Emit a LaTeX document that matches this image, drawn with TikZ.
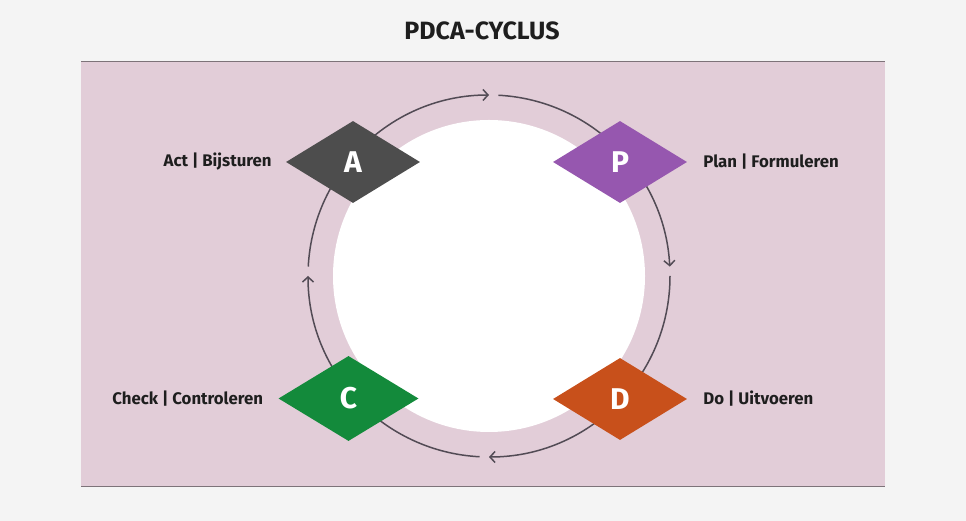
\documentclass[tikz,border=0pt]{standalone}
\usepackage{fontspec}
\setmainfont{Fira Sans}
\usetikzlibrary{arrows.meta, positioning, shapes.geometric}
\definecolor{pdcaBack}{HTML}{F4F4F4}
\definecolor{pdcaPink}{HTML}{E2CDD8}
\definecolor{pdcaLine}{HTML}{7D7379}
\definecolor{pdcaArc}{HTML}{524B55}
\definecolor{pdcaText}{HTML}{1E1E1E}
\definecolor{actGray}{HTML}{4D4D4D}
\definecolor{planPurple}{HTML}{9657AF}
\definecolor{checkGreen}{HTML}{138A3B}
\definecolor{doOrange}{HTML}{C8501B}
\tikzset{
  arrowC/.style={-{Straight Barb[length=5pt, width=11pt]}, pdcaArc, line width=1.5pt},
  phase/.style={diamond, minimum width=134pt, minimum height=82pt, inner sep=0pt,
                text=white, font=\bfseries\fontsize{30}{30}\selectfont},
  phaseLbl/.style={text=pdcaText, inner sep=0pt,
                   font=\bfseries\fontsize{16.8}{17}\selectfont},
}

\begin{document}
\begin{tikzpicture}[x=1pt, y=1pt]
    \useasboundingbox (0,0) rectangle (966,521);
    \fill[pdcaBack] (0,0) rectangle (966,521);
    \fill[pdcaPink] (81,34) rectangle (885,459);
    \draw[pdcaLine, line width=1pt] (81,459) -- (885,459);
    \draw[pdcaLine, line width=1pt] (81,34) -- (885,34);
    \node[text=pdcaText, font=\bfseries\fontsize{25}{25}\selectfont] (title) at (482,490) {PDCA-CYCLUS};
    \node[circle, fill=white, minimum size=312pt, inner sep=0pt] (hub) at (489,245) {};
    % cycle arcs
    \draw[arrowC] ([shift={(87:181pt)}]hub.center) arc[start angle=87, end angle=3, radius=181pt];
    \draw[arrowC] ([shift={(0:181pt)}]hub.center) arc[start angle=0, end angle=-90, radius=181pt];
    \draw[arrowC] ([shift={(-93:181pt)}]hub.center) arc[start angle=-93, end angle=-180, radius=181pt];
    \draw[arrowC] ([shift={(177:181pt)}]hub.center) arc[start angle=177, end angle=90, radius=181pt];
    % phases
    \node[phase, fill=actGray]    (A) at (353,359) {A};
    \node[phase, fill=planPurple] (P) at (620,359) {P};
    \node[phase, fill=checkGreen, minimum width=140pt, minimum height=85pt] (C) at (348.5,122.5) {C};
    \node[phase, fill=doOrange]   (D) at (620,122) {D};
    \node[phaseLbl, left=14pt of A]  (actL)   {Act | Bijsturen};
    \node[phaseLbl, right=16pt of P] (planL)  {Plan | Formuleren};
    \node[phaseLbl, left=15pt of C]  (checkL) {Check | Controleren};
    \node[phaseLbl, right=16pt of D] (doL)    {Do | Uitvoeren};
  \end{tikzpicture}
\end{document}
